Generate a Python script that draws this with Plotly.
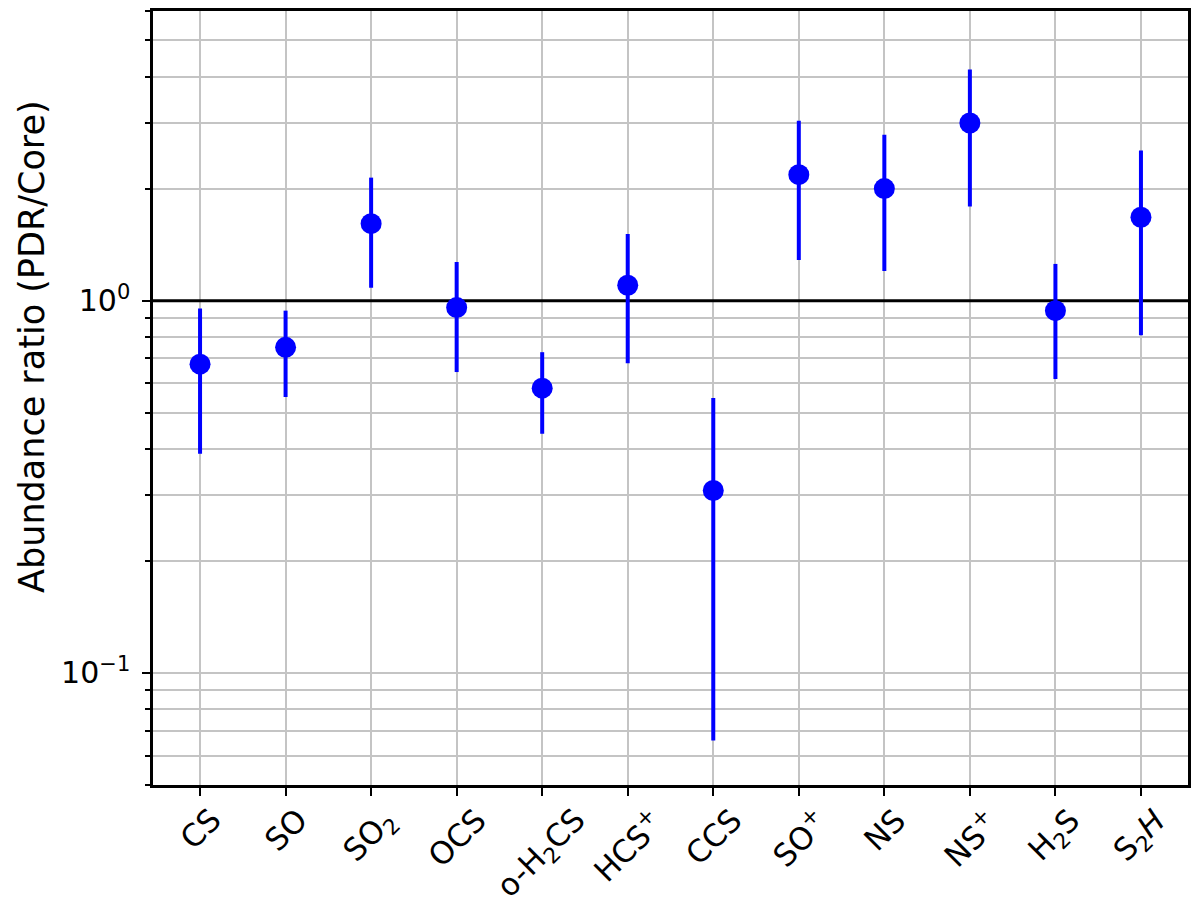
import plotly.graph_objects as go

species = ["CS", "SO", "SO<sub>2</sub>", "OCS", "o-H<sub>2</sub>CS", "HCS<sup>+</sup>",
           "CCS", "SO<sup>+</sup>", "NS", "NS<sup>+</sup>", "H<sub>2</sub>S", "S<sub>2</sub><i>H</i>"]
ratio = [0.675, 0.749, 1.61, 0.958, 0.582, 1.10, 0.309, 2.18, 2.00, 3.00, 0.94, 1.675]
err_upper = [0.952, 0.94, 2.14, 1.27, 0.727, 1.51, 0.548, 3.04, 2.79, 4.18, 1.255, 2.53]
err_lower = [0.388, 0.551, 1.083, 0.643, 0.439, 0.679, 0.0658, 1.286, 1.202, 1.79, 0.616, 0.807]

y_major = [0.1, 1]
y_major_text = ["10<sup>−1</sup>", "10<sup>0</sup>"]
y_minor = [m * 10 ** e for e in (-2, -1, 0) for m in range(2, 10)]
ref_level = 1.0
x_range = [-0.55, 11.55]
y_title = "Abundance ratio (PDR/Core)"

xs = list(range(len(species)))
plus = [u - r for u, r in zip(err_upper, ratio)]
minus = [r - l for r, l in zip(ratio, err_lower)]

FONT = "DejaVu Sans"
fig = go.Figure()
fig.add_trace(go.Scatter(
    x=x_range, y=[ref_level, ref_level], mode="lines",
    line=dict(color="black", width=3), showlegend=False, hoverinfo="skip",
))
fig.add_trace(go.Scatter(
    x=xs, y=ratio, mode="markers",
    marker=dict(color="#0000ff", size=21),
    error_y=dict(type="data", symmetric=False, array=plus, arrayminus=minus,
                 color="#0000ff", thickness=4, width=0),
    showlegend=False,
))

for i, s in enumerate(species):
    fig.add_annotation(x=i, y=0, xref="x", yref="paper", text=s, showarrow=False,
                       textangle=-45, xanchor="center", yanchor="top", yshift=-14,
                       font=dict(family=FONT, size=31, color="black"))

fig.add_annotation(x=-0.1169, y=0.566, xref="paper", yref="paper", text=y_title,
                   showarrow=False, textangle=-90, xanchor="center", yanchor="middle",
                   font=dict(family=FONT, size=35, color="black"))

fig.update_layout(
    width=1192, height=898,
    margin=dict(l=145, r=12, t=3, b=121),
    plot_bgcolor="white", paper_bgcolor="white",
    font=dict(family=FONT, color="black"),
    xaxis=dict(range=x_range, tickvals=xs, ticktext=[""] * len(xs), automargin=False,
               showgrid=True, gridcolor="#c4c4c4", gridwidth=2,
               showline=True, linecolor="black", linewidth=2.5, mirror=True,
               ticks="outside", ticklen=8, tickwidth=2, tickcolor="black", zeroline=False),
    yaxis=dict(type="log", range=[-1.301, 0.778], tickvals=y_major, ticktext=y_major_text,
               automargin=False,
               tickfont=dict(size=30, family=FONT), ticklabelstandoff=6,
               showgrid=True, gridcolor="#c4c4c4", gridwidth=2,
               showline=True, linecolor="black", linewidth=2.5, mirror=True,
               ticks="outside", ticklen=8, tickwidth=2, tickcolor="black",
               minor=dict(tickvals=y_minor, showgrid=True, gridcolor="#c4c4c4", gridwidth=2,
                          ticks="outside", ticklen=5, tickwidth=1.5, tickcolor="black")),
)

fig.write_html("out.html")
